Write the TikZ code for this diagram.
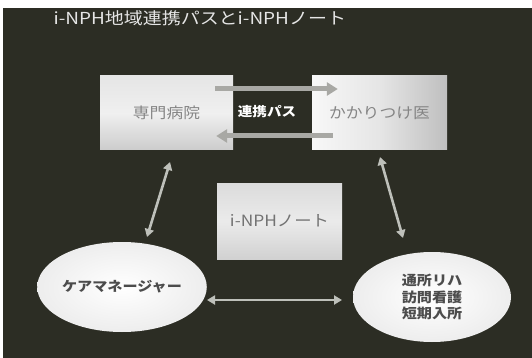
\documentclass[tikz,border=0pt]{standalone}
\usepackage{graphicx}
\usepackage{fontspec}
\setmainfont{Noto Sans CJK JP}
\usetikzlibrary{arrows.meta,shapes.geometric,calc}
\definecolor{bg}{RGB}{44,45,36}
\definecolor{arrowgray}{RGB}{168,168,164}
\definecolor{thingray}{RGB}{190,192,186}
\newcommand{\sx}[1]{\scalebox{1.12}[1]{#1}}
\tikzset{
  box/.style={rectangle, draw=none, inner sep=0pt, top color=white!90!black, bottom color=white!80!black, middle color=white!94!black},
  boxtext/.style={text=black!48, font=\fontsize{15}{17}\selectfont},
  oval/.style={ellipse, draw=none, inner sep=0pt, inner color=white, outer color=white!93!black},
  ovaltext/.style={text=black!70, font=\fontsize{13.5}{17.5}\selectfont\bfseries, align=center},
  fatarrow/.style={draw=arrowgray, line width=5pt, -{Triangle[width=13pt,length=11pt]}},
  thinarrow/.style={draw=thingray, line width=2.6pt, {Triangle[width=9pt,length=8pt]}-{Triangle[width=9pt,length=8pt]}},
}
\begin{document}
\begin{tikzpicture}[x=1pt,y=-1pt]
\useasboundingbox (0,0) rectangle (532,358);
\fill[white] (0,0) rectangle (532,358);
\fill[bg] (3,8) rectangle (532,358);
\node[anchor=west, text=white!90!black, font=\fontsize{16.5}{18}\selectfont] (title) at (50,18) {\scalebox{1.15}[1]{i-NPH地域連携パスとi-NPHノート}};
\node[box, minimum width=133pt, minimum height=74pt, boxtext] (lbox) at (166.5,113) {\sx{専門病院}};
\node[box, minimum width=135pt, minimum height=74pt, boxtext, left color=white!97!black, right color=white!75!black, middle color=white!90!black] (rbox) at (379.5,113) {\sx{かかりつけ医}};
\node[text=white, font=\fontsize{13}{16}\selectfont\bfseries] (pass) at (267,112) {\sx{連携パス}};
\node[box, minimum width=125pt, minimum height=76pt, boxtext, top color=white!86!black, bottom color=white!82!black, middle color=white!92!black, text=black!55, font=\fontsize{15.5}{17}\selectfont] (note) at (279.5,221) {\sx{i-NPHノート}};
\node[oval, minimum width=150pt, minimum height=90pt, ovaltext] (care) at (122,287) {\sx{ケアマネージャー}};
\node[oval, minimum width=158pt, minimum height=90pt, ovaltext] (serv) at (432,297) {\sx{通所リハ}\\[-1pt]\sx{訪問看護}\\[-1pt]\sx{短期入所}};
\draw[fatarrow] ($(lbox.east)+(-18,-24)$) -- ($(rbox.west)+(26,-24)$);
\draw[fatarrow] ($(rbox.west)+(21,23)$) -- ($(lbox.east)+(-17,23)$);
\coordinate (la) at (170,162);
\coordinate (lb) at (147,237);
\coordinate (ra) at (380,157);
\coordinate (rb) at (403,238);
\coordinate (ha) at (207,300);
\coordinate (hb) at (342,300);
\draw[thinarrow] (la) -- (lb);
\draw[thinarrow] (ra) -- (rb);
\draw[thinarrow] (ha) -- (hb);
\end{tikzpicture}
\end{document}
